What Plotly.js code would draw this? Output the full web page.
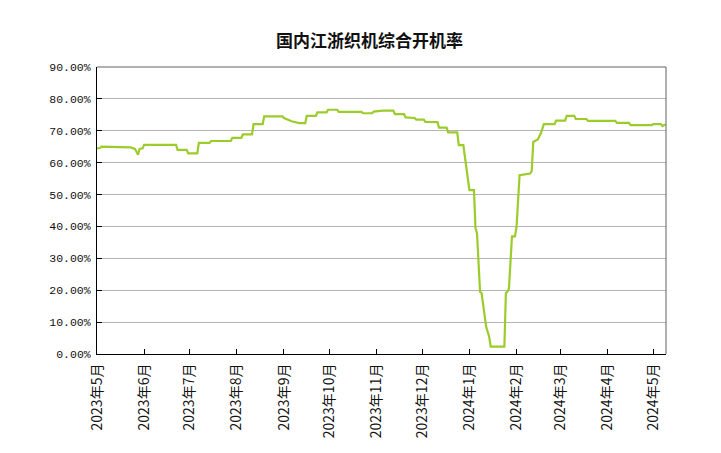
<!DOCTYPE html>
<html>
<head>
<meta charset="utf-8">
<script src="https://cdn.plot.ly/plotly-3.0.1.min.js"></script>
<style>html,body{margin:0;padding:0;background:#fff;}#chart{width:721px;height:453px;}</style>
</head>
<body>
<div id="chart"></div>
<script>
const dates = [
 '2023-05-01','2023-05-03','2023-05-04','2023-05-11','2023-05-12','2023-05-23','2023-05-26','2023-05-28','2023-05-29','2023-05-31','2023-06-01',
 '2023-06-22','2023-06-23','2023-06-29','2023-06-30','2023-07-06','2023-07-07','2023-07-14','2023-07-15','2023-07-28','2023-07-29',
 '2023-08-04','2023-08-05','2023-08-11','2023-08-12','2023-08-18','2023-08-19','2023-08-31','2023-09-01','2023-09-06','2023-09-11','2023-09-15',
 '2023-09-16','2023-09-22','2023-09-23','2023-09-29','2023-09-30','2023-10-06','2023-10-07','2023-10-22','2023-10-23','2023-10-29','2023-10-30',
 '2023-11-05','2023-11-12','2023-11-13','2023-11-19','2023-11-20','2023-11-26','2023-11-27','2023-12-02','2023-12-03','2023-12-11','2023-12-12',
 '2023-12-17','2023-12-18','2023-12-24','2023-12-25','2023-12-28','2024-01-01','2024-01-04','2024-01-05','2024-01-06','2024-01-08','2024-01-09',
 '2024-01-12','2024-01-14','2024-01-15','2024-01-24','2024-01-25','2024-01-26','2024-01-27','2024-01-29','2024-01-31','2024-02-01','2024-02-03',
 '2024-02-10','2024-02-11','2024-02-12','2024-02-15','2024-02-17','2024-02-19','2024-02-26','2024-02-27','2024-03-04','2024-03-05','2024-03-10',
 '2024-03-11','2024-03-18','2024-03-19','2024-04-06','2024-04-07','2024-04-15','2024-04-16','2024-04-30','2024-05-01','2024-05-06','2024-05-07','2024-05-09'
];
const rates = [
 64.5,64.6,65.0,65.0,64.8,64.8,64.3,62.5,64.3,64.5,65.6,
 65.6,64.0,64.0,62.9,62.9,66.2,66.2,66.8,66.8,67.8,
 67.8,68.9,68.9,72.1,72.1,74.5,74.5,74.0,73.0,72.4,72.4,
 74.7,74.7,75.8,75.8,76.6,76.6,75.9,75.9,75.5,75.5,76.0,
 76.3,76.3,75.2,75.2,74.2,74.0,73.5,73.5,72.8,72.7,71.0,
 71.0,69.5,69.5,65.5,65.5,51.4,51.4,39.4,37.9,19.5,19.1,
 8.6,5.4,2.3,2.3,19.1,19.5,20.5,36.9,36.9,39.9,56.1,
 56.6,57.4,66.5,67.3,69.2,72.1,72.1,73.2,73.2,74.7,74.7,
 73.7,73.7,73.1,73.1,72.5,72.5,71.8,71.8,72.1,72.1,71.5,72.0
];
const tickDates = ['2023-05-01','2023-06-01','2023-07-01','2023-08-01','2023-09-01','2023-10-01','2023-11-01','2023-12-01','2024-01-01','2024-02-01','2024-03-01','2024-04-01','2024-05-01'];
const tickLabels = ['2023年5月','2023年6月','2023年7月','2023年8月','2023年9月','2023年10月','2023年11月','2023年12月','2024年1月','2024年2月','2024年3月','2024年4月','2024年5月'];
const yTicks = [0,10,20,30,40,50,60,70,80,90];
const chartTitle = '国内江浙织机综合开机率';

const trace = {
  x: dates, y: rates, type: 'scatter', mode: 'lines',
  line: {color: '#9ccc2c', width: 2.2},
  hoverinfo: 'skip'
};
const layout = {
  width: 721, height: 453,
  margin: {l: 97, r: 55, t: 67, b: 99},
  paper_bgcolor: '#ffffff', plot_bgcolor: '#ffffff',
  showlegend: false,
  title: {text: chartTitle, x: 0.5125, xref: 'container', xanchor: 'center', y: 0.91, yref: 'container', yanchor: 'middle',
          font: {family: 'Noto Sans CJK SC', size: 17, color: '#111', weight: 'bold'}},
  xaxis: {
    type: 'date', range: ['2023-05-01', '2024-05-09 08:00'],
    tickmode: 'array', tickvals: tickDates, ticktext: tickLabels, tickangle: -90,
    ticks: 'inside', ticklen: 5, tickcolor: '#000', tickwidth: 1,
    ticklabelstandoff: 3,
    showline: true, linecolor: '#000', linewidth: 1,
    showgrid: false, zeroline: false,
    tickfont: {family: 'Noto Sans CJK SC', size: 14, color: '#111'}
  },
  yaxis: {
    range: [0, 90], tickmode: 'array', tickvals: yTicks,
    ticktext: yTicks.map(v => v.toFixed(2) + '%'),
    ticks: 'inside', ticklen: 5, tickcolor: '#000',
    ticklabelstandoff: 3,
    showline: true, linecolor: '#000', linewidth: 1,
    showgrid: true, gridcolor: '#b4b4b4', gridwidth: 1, zeroline: false,
    tickfont: {family: 'Liberation Mono', size: 11.5, color: '#111'}
  },
  shapes: [
    {type: 'line', xref: 'paper', yref: 'paper', x0: 0, x1: 1, y0: 1, y1: 1, line: {color: '#606060', width: 1}},
    {type: 'line', xref: 'paper', yref: 'paper', x0: 1, x1: 1, y0: 0, y1: 1, line: {color: '#606060', width: 1}}
  ]
};
Plotly.newPlot('chart', [trace], layout, {displayModeBar: false, staticPlot: true});
</script>
</body>
</html>
